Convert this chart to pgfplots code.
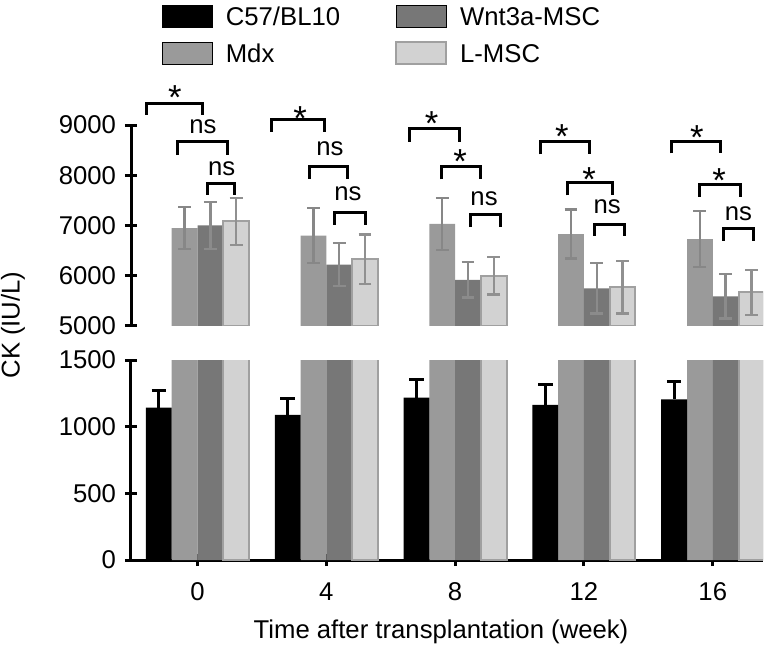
\documentclass[border=0pt]{standalone}
\usepackage{pgfplots}
\usepackage{pgfplotstable}
\pgfplotsset{compat=1.18}
\usepackage{fontspec}
\setmainfont{Liberation Sans}
\definecolor{cmdx}{HTML}{9A9A9A}
\definecolor{cwnt}{HTML}{777777}
\definecolor{cl}{HTML}{D2D2D2}
\definecolor{cle}{HTML}{A0A0A0}

\pgfplotstableread{
x y e
0 1142 128
4 1088 120
8 1218 137
12 1163 150
16 1205 137
}\blk
\pgfplotstableread{
x y e
0 6950 420
4 6800 550
8 7030 520
12 6830 490
16 6730 560
}\mdx
\pgfplotstableread{
x y e
0 7000 470
4 6220 430
8 5920 350
12 5750 500
16 5590 440
}\wnt
\pgfplotstableread{
x y e
0 7080 470
4 6330 490
8 6000 370
12 5770 520
16 5670 450
}\lmsc

\newcommand{\br}[4]{\draw[line width=1.5pt] (axis cs:#1,#4) -- (axis cs:#1,#3) -- (axis cs:#2,#3) -- (axis cs:#2,#4);}
\newcommand{\st}[3]{\node[inner sep=0pt, scale=1.35] at (axis cs:#1,#2) [yshift=-3.8pt] {#3};}
\newcommand{\ns}[2]{\node[inner sep=0pt] at (axis cs:#1,#2) {ns};}

\begin{document}
\fontsize{12.85}{15}\selectfont
\begin{tikzpicture}
\useasboundingbox (-65.5pt,-46pt) rectangle (324.5pt,280pt);
\pgfplotsset{
  common/.style={scale only axis, width=316pt, xmin=-2.065, xmax=17.56,
    tick align=outside, major tick length=6pt,
    every tick/.style={black, line width=1.5pt},
    /pgf/number format/assume math mode=true,
    /pgf/number format/1000 sep={},
    tick label style={font=\fontsize{12.85}{15}\selectfont},
    label style={font=\fontsize{12.85}{15}\selectfont}},
  noarrows/.style={axis line style={-, line width=1.5pt, black},
    every outer x axis line/.append style={-},
    every outer y axis line/.append style={-},
    every inner x axis line/.append style={-},
    every inner y axis line/.append style={-}},
  leg/.style={legend image code/.code={\draw[##1] (0pt,-0.9pt) rectangle (25pt,10.1pt);}}
}
% lower axis
\begin{axis}[common, at={(0pt,0pt)}, anchor=south west, height=100pt,
  ymin=0, ymax=1500, ytick={0,500,1000,1500},
  xtick={0,4,8,12,16},
  axis x line=bottom, axis y line=left, noarrows,
  xticklabel style={yshift=-4pt},
  xlabel={Time after transplantation (week)},
  xlabel style={at={(axis description cs:0.4905,-0.36)}, anchor=center},
  ylabel={CK (IU/L)},
  ylabel style={at={(axis description cs:-0.1867,1.175)}, anchor=center},
  legend columns=2, transpose legend, legend cell align=left,
  legend style={draw=none, fill=none, at={(0.0491,2.775)}, anchor=north west,
    inner sep=0pt, outer sep=0pt, row sep=6pt,
    nodes={inner sep=0pt, anchor=base west},
    /tikz/every even column/.append style={column sep=27.5pt},
    /tikz/every odd column/.append style={column sep=6.5pt},
    font=\fontsize{12.85}{15}\selectfont},
]
\addplot[ybar, bar width=0.8, bar shift=0, fill=cmdx, draw=none, leg, forget plot] table[x expr=\thisrow{x}-0.4, y=y] {\mdx};
\addplot[ybar, bar width=0.8, bar shift=0, fill=cwnt, draw=none, leg, forget plot] table[x expr=\thisrow{x}+0.4, y=y] {\wnt};
\addplot[ybar, bar width=0.8, bar shift=0, fill=cl, draw=cle, line width=1pt, leg, forget plot] table[x expr=\thisrow{x}+1.2, y=y] {\lmsc};
\addplot[ybar, bar width=0.8, bar shift=0, fill=black, draw=none, leg,
  error bars/.cd, y dir=plus, y explicit,
  error bar style={black, line width=1.5pt},
  error mark options={rotate=90, mark size=3.6pt, line width=1.5pt, black}]
  table[x expr=\thisrow{x}-1.2, y=y, y error=e] {\blk};
\addlegendentry{C57/BL10}
\addlegendimage{ybar, fill=cmdx, draw=none, leg}
\addlegendentry{Mdx}
\addlegendimage{ybar, fill=cwnt, draw=none, leg}
\addlegendentry{Wnt3a-MSC}
\addlegendimage{ybar, fill=cl, draw=cle, line width=1pt, leg}
\addlegendentry{L-MSC}
\end{axis}
% upper axis
\begin{axis}[common, at={(0pt,117pt)}, anchor=south west, height=100.5pt,
  ymin=5000, ymax=9000, ytick={5000,6000,7000,8000,9000},
  xtick=\empty, axis x line=none, axis y line=left, noarrows,
  clip mode=individual]
\addplot[ybar, bar width=0.8, bar shift=0, fill=cmdx, draw=none,
  error bars/.cd, y dir=both, y explicit,
  error bar style={cmdx!88!black, line width=1.2pt},
  error mark options={rotate=90, mark size=3.2pt, line width=1.2pt, cmdx!88!black}]
  table[x expr=\thisrow{x}-0.4, y=y, y error=e] {\mdx};
\addplot[ybar, bar width=0.8, bar shift=0, fill=cwnt, draw=none,
  error bars/.cd, y dir=both, y explicit,
  error bar style={cwnt!85!white, line width=1.2pt},
  error mark options={rotate=90, mark size=3.2pt, line width=1.2pt, cwnt!85!white}]
  table[x expr=\thisrow{x}+0.4, y=y, y error=e] {\wnt};
\addplot[ybar, bar width=0.8, bar shift=0, fill=cl, draw=cle, line width=1pt,
  error bars/.cd, y dir=both, y explicit,
  error bar style={cle!90!black, line width=1.2pt},
  error mark options={rotate=90, mark size=3.2pt, line width=1.2pt, cle!90!black}]
  table[x expr=\thisrow{x}+1.2, y=y, y error=e] {\lmsc};
% group 0
\br{-1.578}{0.161}{9434}{9200} \st{-0.70}{9754}{*}
\br{-0.627}{0.925}{8668}{8400} \ns{0.171}{8974}
\br{0.304}{1.134}{7834}{7614} \ns{0.752}{8134}
% group 4
\br{2.304}{3.929}{9100}{8868} \st{3.183}{9334}{*}
\br{3.472}{4.652}{8180}{7934} \ns{4.115}{8534}
\br{4.239}{5.202}{7268}{7014} \ns{4.674}{7634}
% group 8
\br{6.578}{8.130}{8934}{8668} \st{7.273}{9234}{*}
\br{7.584}{8.795}{8180}{7920} \st{8.152}{8474}{*}
\br{8.463}{9.394}{7214}{6968} \ns{8.898}{7534}
% group 12
\br{10.637}{12.168}{8680}{8414} \st{11.311}{8974}{*}
\br{11.484}{12.894}{7848}{7600} \st{12.158}{8114}{*}
\br{12.314}{13.255}{7014}{6800} \ns{12.718}{7374}
% group 16
\br{14.727}{16.227}{8680}{8434} \st{15.503}{8954}{*}
\br{15.575}{16.848}{7814}{7568} \st{16.196}{8100}{*}
\br{16.329}{17.261}{6934}{6700} \ns{16.795}{7234}
\end{axis}
\end{tikzpicture}
\end{document}
